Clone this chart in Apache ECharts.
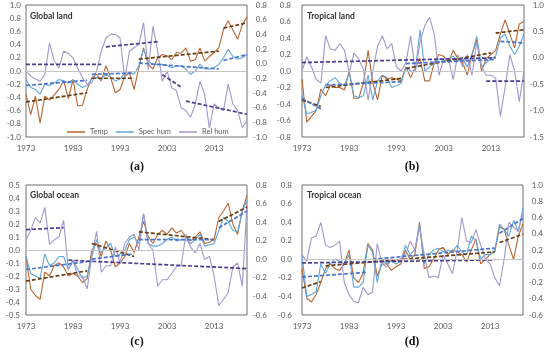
<!DOCTYPE html>
<html><head><meta charset="utf-8">
<script src="https://cdn.jsdelivr.net/npm/echarts@6/dist/echarts.min.js"></script>
<style>html,body{margin:0;padding:0;background:#fff}#c{width:550px;height:355px}</style>
</head><body><div id="c"></div>
<script>
const years = ['1973','1974','1975','1976','1977','1978','1979','1980','1981','1982',
'1983','1984','1985','1986','1987','1988','1989','1990','1991','1992',
'1993','1994','1995','1996','1997','1998','1999','2000','2001','2002',
'2003','2004','2005','2006','2007','2008','2009','2010','2011','2012',
'2013','2014','2015','2016','2017','2018','2019','2020'];
const tickLabels = ['1973','1983','1993','2003','2013'];

// (a) Global land
const tempA = [-0.35,-0.66,-0.38,-0.79,-0.38,-0.44,-0.36,-0.28,-0.14,-0.42, -0.13,-0.53,-0.52,-0.28,-0.10,-0.05,-0.15,0.08,-0.10,-0.33, -0.28,-0.08,-0.03,-0.28,0.05,0.35,0.10,0.03,0.20,0.25, 0.23,0.17,0.28,0.27,0.35,0.15,0.17,0.35,0.15,0.22, 0.28,0.35,0.63,0.76,0.62,0.48,0.70,0.82];
const specA = [-0.13,-0.25,-0.28,-0.35,-0.20,-0.22,-0.18,-0.13,-0.15,-0.18, -0.13,-0.20,-0.25,-0.22,-0.12,-0.10,-0.12,-0.05,-0.10,-0.15, -0.12,-0.03,-0.03,-0.05,0.08,0.33,0.15,0.10,0.10,0.10, 0.08,0.05,0.08,0.08,0.03,-0.05,0.00,0.10,0.03,0.03, 0.05,0.10,0.20,0.33,0.22,0.18,0.20,0.25];
const relA = [-0.10,-0.17,-0.21,-0.24,-0.15,0.28,0.04,-0.06,0.17,0.14, 0.08,-0.06,-0.19,-0.28,-0.26,-0.10,0.17,0.35,0.40,0.40, 0.35,-0.21,0.17,0.22,0.26,0.56,-0.08,0.51,0.17,-0.24, -0.10,-0.33,-0.37,-0.60,-0.64,-0.73,-0.55,-0.24,-0.42,-0.88, -0.55,-0.60,-0.64,-0.28,-0.55,-0.64,-0.87,-0.78];
const tempTrendA = [[['1973',-0.47],['1986',-0.33]],[['1987',-0.11],['1996',-0.11]],[['1997',0.18],['2014',0.30]],[['2015',0.65],['2020',0.73]]];
const specTrendA = [[['1973',-0.22],['1986',-0.14]],[['1987',-0.05],['1996',-0.03]],[['1997',0.12],['2014',0.03]],[['2015',0.16],['2020',0.25]]];
const relTrendA = [[['1973',-0.01],['1989',-0.01]],[['1990',0.23],['2001',0.30]],[['2002',-0.15],['2006',-0.32]],[['2007',-0.51],['2020',-0.69]]];

// (b) Tropical land
const tempB = [-0.10,-0.62,-0.55,-0.48,-0.22,-0.30,-0.17,-0.20,-0.20,-0.23, 0.00,-0.33,-0.33,-0.15,0.25,-0.15,-0.35,-0.05,-0.10,-0.08, -0.10,-0.12,0.05,-0.08,0.05,0.15,-0.12,-0.12,0.10,0.20, 0.18,0.10,0.25,0.15,0.10,-0.05,0.20,0.38,0.00,0.15, 0.20,0.25,0.45,0.62,0.45,0.28,0.57,0.60];
const specB = [-0.30,-0.52,-0.50,-0.48,-0.30,-0.17,-0.12,-0.08,-0.15,-0.18, -0.02,-0.30,-0.32,-0.30,-0.05,-0.35,-0.12,-0.05,-0.08,-0.20, -0.18,-0.15,0.05,0.00,0.00,0.50,0.00,0.05,0.10,0.15, 0.12,0.15,0.18,0.12,0.15,0.05,0.20,0.42,0.05,0.10, 0.15,0.18,0.40,0.45,0.30,0.20,0.30,0.45];
const relB = [-0.25,0.02,-0.17,-0.41,-0.48,0.42,0.17,0.14,0.27,0.14, -0.28,0.09,-0.02,-0.22,-0.80,-0.25,0.22,0.42,0.17,0.27, -0.17,-0.25,-0.09,0.41,-0.25,0.30,0.61,0.77,0.45,-0.33, -0.02,-0.02,-0.41,0.06,-0.17,0.06,-0.33,0.30,-0.17,-0.33, -0.33,-0.38,-1.11,-0.56,0.06,-0.25,-0.83,-0.25];
const tempTrendB = [[['1973',-0.35],['1977',-0.43]],[['1978',-0.20],['1994',-0.09]],[['1995',0.03],['2013',0.22]],[['2014',0.46],['2020',0.50]]];
const specTrendB = [[['1973',-0.33],['1977',-0.46]],[['1978',-0.17],['1994',-0.13]],[['1995',0.09],['2014',0.14]],[['2015',0.36],['2020',0.34]]];
const relTrendB = [[['1973',-0.09],['2014',0.00]],[['2012',-0.44],['2020',-0.44]]];

// (c) Global ocean
const tempC = [-0.05,-0.30,-0.35,-0.38,-0.17,-0.20,-0.12,-0.10,-0.13,-0.20, -0.18,-0.20,-0.25,-0.22,0.00,0.05,-0.05,0.07,0.00,-0.13, -0.10,-0.05,0.05,-0.02,0.10,0.22,0.10,0.05,0.12,0.15, 0.12,0.17,0.13,0.15,0.10,0.07,0.10,0.14,0.05,0.06, 0.08,0.25,0.30,0.36,0.20,0.12,0.30,0.42];
const specC = [-0.05,-0.18,-0.20,-0.22,-0.03,-0.12,-0.10,-0.05,-0.05,-0.15, -0.08,-0.15,-0.22,-0.20,-0.05,0.08,-0.02,0.02,0.05,-0.05, -0.03,0.00,0.08,0.10,0.05,0.28,0.05,0.03,0.03,0.05, 0.08,0.10,0.07,0.08,0.08,0.05,0.08,0.12,0.03,0.04, 0.05,0.15,0.25,0.22,0.15,0.14,0.30,0.38];
const relC = [0.21,0.31,0.45,0.39,0.56,0.16,0.21,0.24,0.42,-0.11, -0.01,-0.18,-0.18,-0.32,0.03,0.30,-0.14,-0.07,-0.07,0.13, -0.04,0.17,0.24,0.27,0.10,0.49,0.17,0.10,-0.29,-0.22, -0.22,-0.15,-0.08,-0.07,0.27,0.13,0.07,0.17,0.00,0.03, -0.18,-0.50,-0.43,-0.36,-0.08,-0.04,-0.29,0.59];
const tempTrendC = [[['1973',-0.24],['1986',-0.16]],[['1987',0.05],['1996',-0.05]],[['1997',0.14],['2013',0.08]],[['2014',0.22],['2020',0.33]]];
const specTrendC = [[['1973',-0.15],['1986',-0.09]],[['1987',-0.07],['1996',-0.03]],[['1997',0.08],['2013',0.08]],[['2014',0.17],['2020',0.30]]];
const relTrendC = [[['1973',0.32],['1981',0.34]],[['1982',-0.01],['2020',-0.10]]];

// (d) Tropical ocean
const tempD = [-0.10,-0.42,-0.46,-0.38,-0.25,-0.10,-0.05,-0.10,-0.12,-0.05, 0.10,-0.20,-0.25,-0.15,0.17,0.10,-0.18,-0.05,-0.05,-0.12, -0.08,-0.05,0.10,0.00,0.05,0.40,-0.10,-0.08,0.00,0.10, 0.13,0.05,0.10,0.08,0.05,-0.03,0.10,0.22,-0.05,0.00, 0.05,0.08,0.35,0.32,0.15,0.00,0.25,0.38];
const specD = [0.05,-0.40,-0.38,-0.35,-0.05,-0.15,-0.05,0.00,-0.02,-0.05, 0.05,-0.30,-0.30,-0.25,0.15,0.08,-0.25,0.00,-0.05,-0.02, -0.05,-0.02,0.15,0.05,0.10,0.38,-0.05,0.05,0.10,0.12, 0.08,0.10,0.08,0.15,0.08,0.05,0.25,0.20,0.00,0.05, 0.05,0.10,0.38,0.32,0.25,0.42,0.30,0.55];
const relD = [0.14,0.06,0.35,0.37,0.54,0.26,0.23,0.26,0.31,-0.20, -0.35,-0.43,-0.45,-0.26,-0.35,-0.32,0.28,0.03,-0.01,0.09, 0.06,0.09,0.14,0.31,0.20,0.48,0.14,-0.14,-0.12,-0.14, 0.14,0.03,-0.09,0.20,0.60,0.31,0.29,0.45,0.26,0.09, 0.03,-0.14,-0.24,0.09,0.54,0.48,0.43,0.66];
const tempTrendD = [[['1973',-0.31],['1977',-0.24]],[['1978',-0.07],['2014',0.08]],[['2015',0.18],['2020',0.27]]];
const specTrendD = [[['1973',-0.19],['1987',-0.14]],[['1988',0.00],['2014',0.12]],[['2015',0.28],['2020',0.44]]];
const relTrendD = [[['1973',0.04],['2014',0.08]]];

const panelTitles = ['Global land','Tropical land','Global ocean','Tropical ocean'];
const panelLetters = ['(a)','(b)','(c)','(d)'];
const leftAxes = [[-1,1,0.2],[-0.8,0.8,0.2],[-0.5,0.5,0.1],[-0.6,0.8,0.2]];
const rightAxes = [[-1,0.8,0.2],[-1.5,1.0,0.5],[-0.6,0.8,0.2],[-0.6,1.0,0.2]];

const panels = [
  {temp:tempA, spec:specA, rel:relA, tt:tempTrendA, st:specTrendA, rt:relTrendA},
  {temp:tempB, spec:specB, rel:relB, tt:tempTrendB, st:specTrendB, rt:relTrendB},
  {temp:tempC, spec:specC, rel:relC, tt:tempTrendC, st:specTrendC, rt:relTrendC},
  {temp:tempD, spec:specD, rel:relD, tt:tempTrendD, st:specTrendD, rt:relTrendD}
];

const C = {temp:'#b8652f', spec:'#5ea6dc', rel:'#a097cf', tt:'#6a3d10', st:'#4a74c9', rt:'#4c3f8f'};
const grids = [
  {left:26, top:5, width:221, height:132},
  {left:302, top:5, width:222, height:132},
  {left:26, top:185, width:221, height:130},
  {left:302, top:185, width:221, height:130}
];
const leftMargins = [5, 11, 6, 10];
const labelFont = {color:'#595959', fontSize:8, fontFamily:'Lato'};

const xAxis = [], yAxis = [], series = [];
grids.forEach((g, i) => {
  g.show = true; g.borderColor = '#6e6e6e'; g.borderWidth = 1; g.containLabel = false;
  xAxis.push({type:'category', gridIndex:i, data:years, boundaryGap:false,
    axisLine:{show:false}, axisTick:{show:false}, splitLine:{show:false},
    axisLabel:Object.assign({interval:0, margin:7, formatter:v => tickLabels.includes(v) ? v : ''}, labelFont)});
  const L = leftAxes[i], R = rightAxes[i];
  yAxis.push({type:'value', gridIndex:i, position:'left', min:L[0], max:L[1], interval:L[2],
    axisLine:{show:false}, axisTick:{show:false}, splitLine:{show:false},
    axisLabel:Object.assign({margin:leftMargins[i], formatter:v => v.toFixed(1)}, labelFont)});
  yAxis.push({type:'value', gridIndex:i, position:'right', min:R[0], max:R[1], interval:R[2],
    axisLine:{show:false}, axisTick:{show:false}, splitLine:{show:false},
    axisLabel:Object.assign({margin:20, align:'right', formatter:v => v.toFixed(1)}, labelFont)});
  const p = panels[i];
  const base = {type:'line', xAxisIndex:i, symbol:'none', silent:true, animation:false};
  series.push(Object.assign({}, base, {name:'Temp', yAxisIndex:2*i, data:p.temp, z:3,
    lineStyle:{color:C.temp, width:1.1}, itemStyle:{color:C.temp},
    markLine:{silent:true, symbol:'none', label:{show:false}, animation:false,
      lineStyle:{color:'#c4c4c4', width:1, type:'solid'}, data:[{yAxis:0}]}}));
  series.push(Object.assign({}, base, {name:'Spec hum', yAxisIndex:2*i, data:p.spec, z:3,
    lineStyle:{color:C.spec, width:1.1}, itemStyle:{color:C.spec}}));
  series.push(Object.assign({}, base, {name:'Rel hum', yAxisIndex:2*i+1, data:p.rel, z:3,
    lineStyle:{color:C.rel, width:1.1}, itemStyle:{color:C.rel}}));
  const addTrend = (segs, yi, col, nm) => segs.forEach(s => series.push(Object.assign({}, base,
    {name:nm, yAxisIndex:yi, data:s, z:4, lineStyle:{color:col, width:1.7, type:[4,2]}})));
  addTrend(p.tt, 2*i, C.tt, 'Temp trend');
  addTrend(p.st, 2*i, C.st, 'Spec hum trend');
  addTrend(p.rt, 2*i+1, C.rt, 'Rel hum trend');
});

const titlePos = [[30,16],[307,16],[30,195],[307,195]];
const letterPos = [[137,167],[412,167],[137,342],[412,342]];
const graphic = [];
panelTitles.forEach((t, i) => graphic.push({type:'text', x:titlePos[i][0], y:titlePos[i][1],
  style:{text:t, font:'bold 8.5px Lato', fill:'#333', textVerticalAlign:'middle'}}));
panelLetters.forEach((t, i) => graphic.push({type:'text', x:letterPos[i][0], y:letterPos[i][1],
  style:{text:t, font:'bold 12px "Liberation Serif"', fill:'#111', textAlign:'center', textVerticalAlign:'middle'}}));

const chart = echarts.init(document.getElementById('c'), null, {renderer:'canvas'});
chart.setOption({
  animation:false,
  grid:grids, xAxis, yAxis, series, graphic,
  legend:{data:['Temp','Spec hum','Rel hum'], left:62, top:123, icon:'rect', itemWidth:18, itemHeight:1.5, itemGap:8,
    selectedMode:false, textStyle:{color:'#595959', fontSize:7.5, fontFamily:'Lato'}}
});
</script></body></html>
